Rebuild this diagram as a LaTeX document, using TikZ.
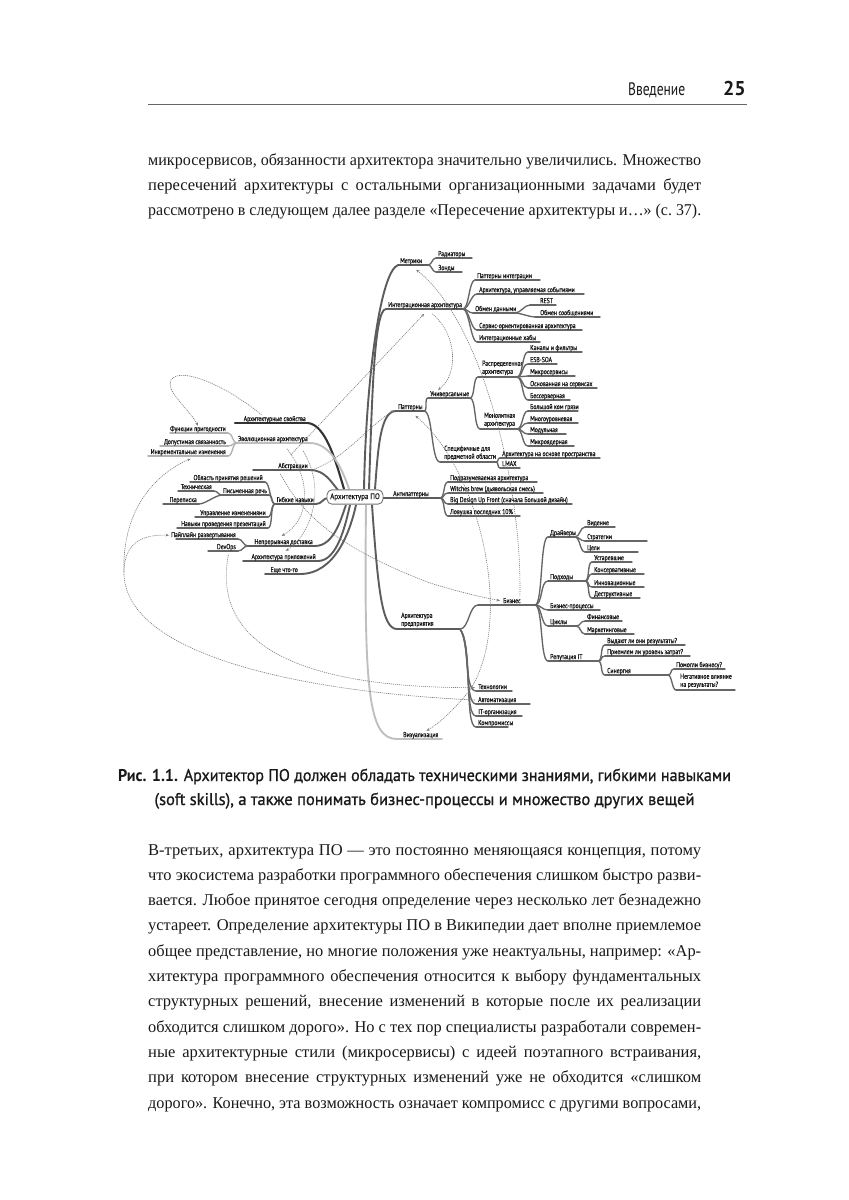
\documentclass[tikz,border=0pt]{standalone}
\usepackage{fontspec}
\usepackage{graphicx}
\setmainfont{Liberation Serif}
\newfontfamily\mapfont[FakeStretch=0.8,FakeBold=0.9]{PT Sans}
\newfontfamily\corefont[FakeStretch=0.88,FakeBold=0.5]{PT Sans}
\newfontfamily\sansf{PT Sans}
\newfontfamily\capfont[FakeBold=0.9]{PT Sans}
\usetikzlibrary{arrows.meta,calc}
\definecolor{ink}{gray}{0.1}

\newlength\fwtmp
\newcommand\jline[1]{\settowidth\fwtmp{#1}\ifdim\fwtmp>553pt\relax\pgfmathsetmacro\fwfac{553/\fwtmp}\scalebox{\fwfac}[1]{#1}\else\makebox[553pt][s]{#1}\fi}
\newcommand\fitw[2]{\settowidth\fwtmp{#2}\pgfmathsetmacro\fwfac{#1/\fwtmp}\scalebox{\fwfac}[1]{#2}}

\tikzset{
 lab/.style={font=\mapfont\fontsize{7.2}{8}\selectfont, inner sep=0pt, text=ink},
 labm/.style={lab, align=left},
 ul/.style={draw=black!60, line width=1.35pt, line cap=round},
 cn/.style={draw=black!60, line width=1.35pt, line cap=round},
 l1/.style={draw=black!64, line width=1.9pt},
 l1d/.style={draw=black!80, line width=2.1pt},
 l1l/.style={draw=black!25, line width=1.9pt},
 lul/.style={draw=black!30},
 dsh/.style={draw=black!52, line width=0.6pt, dash pattern=on 1.1pt off 0.9pt, -{Stealth[length=3.4pt,width=2.8pt]}},
 dshb/.style={dsh, {Stealth[length=3.4pt,width=2.8pt]}-{Stealth[length=3.4pt,width=2.8pt]}},
 body/.style={font=\fontsize{16.5}{20}\selectfont, inner sep=0pt, anchor=base west, text=ink},
 capt/.style={font=\capfont\fontsize{17}{20}\selectfont, inner sep=0pt, anchor=base, text=ink},
 corebox/.style={draw=black!55, line width=0.9pt, rounded corners=5pt, fill=white, font=\corefont\fontsize{8}{9}\selectfont, inner xsep=3.2pt, inner ysep=3.5pt, text=ink}
}

% label on an underline, text at the left end
\newcommand\mR[6][]{\coordinate (#2-l) at (#3,#5);\coordinate (#2-r) at (#4,#5);\draw[ul,#1] (#2-l) -- (#2-r);\node[lab,anchor=base west] (#2) at (#3+2,#5-1.9) {#6};}
% label on an underline, text at given x
\newcommand\mRt[7][]{\coordinate (#2-l) at (#3,#5);\coordinate (#2-r) at (#4,#5);\draw[ul,#1] (#2-l) -- (#2-r);\node[lab,anchor=base west] (#2) at (#6,#5-1.9) {#7};}
% label on an underline, text at the right end
\newcommand\mL[6][]{\coordinate (#2-l) at (#3,#5);\coordinate (#2-r) at (#4,#5);\draw[ul,#1] (#2-l) -- (#2-r);\node[lab,anchor=base east] (#2) at (#4-2,#5-1.9) {#6};}
% two-line label
\newcommand\mRm[6][]{\coordinate (#2-l) at (#3,#5);\coordinate (#2-r) at (#4,#5);\draw[ul,#1] (#2-l) -- (#2-r);\node[labm,anchor=south west] (#2) at (#3+4,#5-1.6) {#6};}
% connectors
\newcommand\mCr[4][]{\draw[cn,#1] (#2) .. controls +(#4,0) and +(-#4,0) .. (#3);}
\newcommand\mCl[4][]{\draw[cn,#1] (#2) .. controls +(-#4,0) and +(#4,0) .. (#3);}

\begin{document}
\begin{tikzpicture}[x=1pt,y=-1pt]
\useasboundingbox (0,0) rectangle (849,1200);
\fill[white] (0,0) rectangle (849,1200);

% ---------- header ----------
\node[font=\sansf\fontsize{18}{20}\selectfont, anchor=base west, inner sep=0pt, text=ink] (hd) at (628,95) {\fitw{57}{Введение}};
\node[font=\sansf\bfseries\fontsize{20}{22}\selectfont, anchor=base east, inner sep=0pt, text=ink] (pg) at (746,95) {25};
\coordinate (rl) at (148,104); \coordinate (rr) at (747,104);
\draw[black!60, line width=0.8pt] (rl) -- (rr);

% ---------- paragraph 1 ----------
\node[body] (b1) at (148,165) {\jline{микросервисов, обязанности архитектора значительно увеличились. Множество}};
\node[body] (b2) at (148,190) {\jline{пересечений архитектуры с остальными организационными задачами будет}};
\node[body] (b3) at (148,215) {\jline{рассмотрено в следующем далее разделе «Пересечение архитектуры и…» (с.~37).}};

% ---------- core connectors ----------
\coordinate (cA) at (364,489);
\coordinate (cB) at (369,489);
\coordinate (cC) at (375,489);
\coordinate (cD) at (372,505);
\coordinate (cE) at (366,505);
\coordinate (cF) at (344,489);
\coordinate (cG) at (349,489);
\coordinate (cH) at (338,490);
\coordinate (cI) at (328,498);
\coordinate (cJ) at (346,505);
\coordinate (cK) at (350,505);
\coordinate (cL) at (356,505);

% Метрики
\mR[l1]{metr}{398}{428}{265}{Метрики}
\draw[l1] (cA) .. controls (366,380) and (380,272) .. (metr-l);
\mR{rad}{436}{472}{258}{Радиаторы}
\mR{zond}{436}{462}{272}{Зонды}
\mCr{metr-r}{rad-l}{4}
\mCr{metr-r}{zond-l}{4}

% Интеграционная архитектура
\mR[l1]{integ}{386}{463}{309}{Интеграционная архитектура}
\draw[l1] (cB) .. controls (372,400) and (374,309) .. (integ-l);
\mR{pint}{475}{540}{280}{Паттерны интеграции}
\mR{event}{477}{584}{294}{Архитектура, управляемая событиями}
\mR{obmen}{473}{515}{313}{Обмен данными}
\mR{soa}{477}{582}{330}{Сервис-ориентированная архитектура}
\mR{hub}{477}{540}{342}{Интеграционные хабы}
\mCr{integ-r}{pint-l}{6}
\mCr{integ-r}{event-l}{6}
\mCr{integ-r}{obmen-l}{5}
\mCr{integ-r}{soa-l}{6}
\mCr{integ-r}{hub-l}{6}
\mRt{rest}{530}{556}{305}{540}{REST}
\mRt{msg}{535}{600}{317}{540}{Обмен сообщениями}
\mCr{obmen-r}{rest-l}{6}
\mCr{obmen-r}{msg-l}{6}

% Паттерны
\mR[l1]{patt}{396}{424}{411}{Паттерны}
\draw[l1] (cC) .. controls (378,450) and (380,411) .. (patt-l);
\mR{univ}{428}{470}{398}{Универсальные}
\mRm{dom}{440}{496}{462}{Специфичные для\\предметной области}
\mCr{patt-r}{univ-l}{4}
\mCr{patt-r}{dom-l}{9}
\mRm{distr}{478}{517}{377}{Распределенная\\архитектура}
\mRm{mono}{480}{517}{429}{Монолитная\\архитектура}
\mCr{univ-r}{distr-l}{5}
\mCr{univ-r}{mono-l}{6}
\mR{pipes}{528}{582}{352}{Каналы и фильтры}
\mR{esb}{528}{557}{364}{ESB-SOA}
\mR{micro}{528}{575}{376}{Микросервисы}
\mR{sbased}{528}{597}{388}{Основанная на сервисах}
\mR{srvless}{528}{570}{400}{Бессерверная}
\mCr{distr-r}{pipes-l}{6}
\mCr{distr-r}{esb-l}{6}
\mCr{distr-r}{micro-l}{5}
\mCr{distr-r}{sbased-l}{6}
\mCr{distr-r}{srvless-l}{6}
\mR{bbm}{528}{578}{411}{Большой ком грязи}
\mR{layer}{528}{578}{423}{Многоуровневая}
\mR{modul}{528}{566}{434}{Модульная}
\mR{mkern}{528}{574}{446}{Микроядерная}
\mCr{mono-r}{bbm-l}{6}
\mCr{mono-r}{layer-l}{6}
\mCr{mono-r}{modul-l}{6}
\mCr{mono-r}{mkern-l}{6}
\mR{space}{500}{600}{458}{Архитектура на основе пространства}
\mR{lmax}{500}{520}{468}{LMAX}
\mCr{dom-r}{space-l}{3}
\mCr{dom-r}{lmax-l}{3}

% Антипаттерны
\mRt[l1]{anti}{383}{440}{498}{393}{Антипаттерны}
\mR{impl}{448}{537}{482}{Подразумеваемая архитектура}
\mR{witch}{448}{543}{493}{Witches brew (дьявольская смесь)}
\mR{bduf}{448}{572}{504}{Big Design Up Front (сначала Большой дизайн)}
\mR{last}{448}{520}{516}{Ловушка последних 10\%}
\mCr{anti-r}{impl-l}{5}
\mCr{anti-r}{witch-l}{5}
\mCr{anti-r}{bduf-l}{5}
\mCr{anti-r}{last-l}{5}

% Архитектура предприятия
\mRm[l1]{ent}{397}{460}{629}{Архитектура\\предприятия}
\draw[l1] (cD) .. controls (378,590) and (382,629) .. (ent-l);
\mRt{biz}{478}{535}{605}{503}{Бизнес}
\mCr{ent-r}{biz-l}{9}
\mR{tech}{476}{512}{691}{Технологии}
\mR{auto}{476}{530}{704}{Автоматизация}
\mR{itorg}{476}{522}{716}{IT-организация}
\mR{comp}{476}{508}{727}{Компромиссы}
\draw[cn] (ent-r) .. controls +(10,15) and +(-12,0) .. (tech-l);
\draw[cn] (ent-r) .. controls +(11,15) and +(-12,0) .. (auto-l);
\draw[cn] (ent-r) .. controls +(12,15) and +(-12,0) .. (itorg-l);
\draw[cn] (ent-r) .. controls +(13,15) and +(-12,0) .. (comp-l);

% Бизнес subtree
\mR{drv}{548}{575}{537}{Драйверы}
\mR{appr}{548}{585}{581}{Подходы}
\mR{bproc}{548}{600}{610}{Бизнес-процессы}
\mR{cyc}{548}{576}{626}{Циклы}
\mR{rep}{548}{598}{661}{Репутация IT}
\mCr{biz-r}{drv-l}{8}
\mCr{biz-r}{appr-l}{8}
\mCr{biz-r}{bproc-l}{6}
\mCr{biz-r}{cyc-l}{7}
\mCr{biz-r}{rep-l}{8}
\mR{vis}{585}{615}{527}{Видение}
\mR{strat}{585}{647}{541}{Стратегии}
\mR{goals}{585}{638}{552}{Цели}
\mCr{drv-r}{vis-l}{5}
\mCr{drv-r}{strat-l}{5}
\mCr{drv-r}{goals-l}{5}
\mR{old}{592}{632}{562}{Устаревшие}
\mR{cons}{592}{644}{574}{Консервативные}
\mR{innov}{592}{644}{587}{Инновационные}
\mR{destr}{592}{640}{598}{Деструктивные}
\mCr{appr-r}{old-l}{5}
\mCr{appr-r}{cons-l}{5}
\mCr{appr-r}{innov-l}{5}
\mCr{appr-r}{destr-l}{5}
\mR{fin}{585}{622}{621}{Финансовые}
\mR{mkt}{585}{634}{634}{Маркетинговые}
\mCr{cyc-r}{fin-l}{5}
\mCr{cyc-r}{mkt-l}{5}
\mR{deliv}{605}{685}{645}{Выдают ли они результаты?}
\mR{cost}{605}{690}{656}{Приемлем ли уровень затрат?}
\mR{syn}{605}{668}{675}{Синергия}
\mCr{rep-r}{deliv-l}{5}
\mCr{rep-r}{cost-l}{5}
\mCr{rep-r}{syn-l}{5}
\mR{help}{674}{725}{669}{Помогли бизнесу?}
\mRm{neg}{676}{735}{690}{Негативное влияние\\на результаты?}
\mCr{syn-r}{help-l}{4}
\mCr{syn-r}{neg-l}{4}

% Визуализация
\mRt[l1l]{viz}{397}{442}{739}{403}{Визуализация}
\draw[l1l] (cE) .. controls (364,690) and (368,739) .. (viz-l);

% ---------- left side ----------
\mL[l1d]{aprop}{235}{308}{423}{Архитектурные свойства}
\draw[l1d] (aprop-r) .. controls (326,425) and (336,462) .. (cF);
\mL[l1l]{evol}{237}{310}{443}{Эволюционная архитектура}
\draw[l1l] (evol-r) .. controls (330,443) and (342,468) .. (cG);
\mL[lul]{fit}{170}{228}{433}{Функции пригодности}
\mL[lul]{coup}{160}{228}{446}{Допустимая связанность}
\mL[lul]{incr}{148}{228}{456}{Инкрементальные изменения}
\mCl[lul]{evol-l}{fit-r}{5}
\mCl[lul]{evol-l}{coup-r}{5}
\mCl[lul]{evol-l}{incr-r}{5}
\mL[l1]{abst}{253}{310}{470}{Абстракции}
\draw[l1] (abst-r) .. controls (325,470) and (331,482) .. (cH);
\mL[l1]{soft}{275}{316}{504}{Гибкие навыки}
\draw[l1] (soft-r) .. controls +(6,0) and +(-5,0) .. (cI);
\mL{area}{190}{265}{482}{Область принятия решений}
\mL{write}{222}{269}{495}{Письменная речь}
\mL{chg}{195}{268}{517}{Управление изменениями}
\mL{pres}{177}{268}{528}{Навыки проведения презентаций}
\mCl{soft-l}{area-r}{5}
\mCl{soft-l}{write-r}{4}
\mCl{soft-l}{chg-r}{4}
\mCl{soft-l}{pres-r}{5}
\mL{techw}{178}{214}{491}{Техническая}
\mL{pere}{163}{199}{504}{Переписка}
\mCl{write-l}{techw-r}{4}
\mCl{write-l}{pere-r}{6}
\mL[l1]{cd}{248}{315}{546}{Непрерывная доставка}
\draw[l1] (cd-r) .. controls (335,546) and (342,515) .. (cJ);
\mL{pipe}{176}{238}{539}{Пайплайн развертывания}
\mL{devops}{208}{238}{551}{DevOps}
\mCl{cd-l}{pipe-r}{5}
\mCl{cd-l}{devops-r}{5}
\mL[l1]{appl}{243}{318}{561}{Архитектура приложений}
\draw[l1] (appl-r) .. controls (338,561) and (346,522) .. (cK);
\mL[l1]{smth}{265}{300}{574}{Еще что-то}
\draw[l1] (smth-r) .. controls (335,574) and (350,532) .. (cL);

% ---------- dashed cross links ----------
\draw[dsh] ($(aprop.north west)+(18,-1)$) .. controls (225,385) and (180,366) .. (171,380) .. controls (165,391) and (190,410) .. (fit.north);
\draw[dsh] ($(evol.south)+(18,12)$) -- ($(integ.south east)+(-38,5)$);
\draw[dsh] ($(integ.south east)+(-30,5)$) .. controls (458,335) and (458,375) .. ($(univ.north west)+(8,-1)$);
\draw[dsh] ($(biz.north)+(8,-2)$) .. controls (522,480) and (480,320) .. ($(metr.south)+(5,5)$);
\draw[dshb] ($(patt.south)+(5,5)$) .. controls (480,470) and (515,620) .. (470,690) .. controls (452,712) and (438,724) .. ($(viz.north east)+(-12,-1)$);
\draw[dsh] ($(abst.east)+(6,3)$) .. controls (345,458) and (370,425) .. ($(patt.west)+(-4,3)$);
\draw[dsh] ($(auto.west)+(-3,0)$) .. controls (300,692) and (128,655) .. (124,575) .. controls (121,505) and (160,472) .. ($(incr.south west)+(40,3)$);
\coordinate (j1) at (124,572);
\draw[dsh] (j1) .. controls (124,545) and (140,534) .. ($(pipe.west)+(-2,0)$);
\draw[dsh] ($(devops.south)+(2,4)$) .. controls (212,640) and (290,688) .. ($(tech.west)+(-3,1)$);
\draw[dsh] ($(abst.south west)+(2,4)$) .. controls (300,510) and (330,545) .. (430,583) .. controls (460,592) and (476,596) .. ($(biz.west)+(-3,0)$);
\draw[dsh] ($(evol.south)+(14,6)$) .. controls (312,480) and (310,520) .. ($(cd.north)+(-2,-3)$);
\draw[dsh] ($(evol.south east)+(-5,8)$) .. controls (330,495) and (305,540) .. ($(appl.north)+(2,-3)$);

% ---------- core ----------
\node[corebox] (core) at (355,497) {Архитектура ПО};

% ---------- caption ----------
\node[capt] (cap1) at (424.5,781) {\fitw{613}{{\sansf\bfseries Рис. 1.1.} Архитектор ПО должен обладать техническими знаниями, гибкими навыками}};
\node[capt] (cap2) at (424.5,805) {\fitw{540}{(soft skills), а также понимать бизнес-процессы и множество других вещей}};

% ---------- paragraph 2 ----------
\node[body] (q1) at (148,855) {\jline{В-третьих, архитектура ПО — это постоянно меняющаяся концепция, потому}};
\node[body] (q2) at (148,880.3) {\jline{что экосистема разработки программного обеспечения слишком быстро разви-}};
\node[body] (q3) at (148,905.6) {\jline{вается. Любое принятое сегодня определение через несколько лет безнадежно}};
\node[body] (q4) at (148,930.9) {\jline{устареет. Определение архитектуры ПО в Википедии дает вполне приемлемое}};
\node[body] (q5) at (148,956.2) {\jline{общее представление, но многие положения уже неактуальны, например: «Ар-}};
\node[body] (q6) at (148,981.5) {\jline{хитектура программного обеспечения относится к выбору фундаментальных}};
\node[body] (q7) at (148,1006.8) {\jline{структурных решений, внесение изменений в которые после их реализации}};
\node[body] (q8) at (148,1032.1) {\jline{обходится слишком дорого». Но с тех пор специалисты разработали современ-}};
\node[body] (q9) at (148,1057.4) {\jline{ные архитектурные стили (микросервисы) с идеей поэтапного встраивания,}};
\node[body] (q10) at (148,1082.7) {\jline{при котором внесение структурных изменений уже не обходится «слишком}};
\node[body] (q11) at (148,1108) {\jline{дорого». Конечно, эта возможность означает компромисс с другими вопросами,}};
\end{tikzpicture}
\end{document}
